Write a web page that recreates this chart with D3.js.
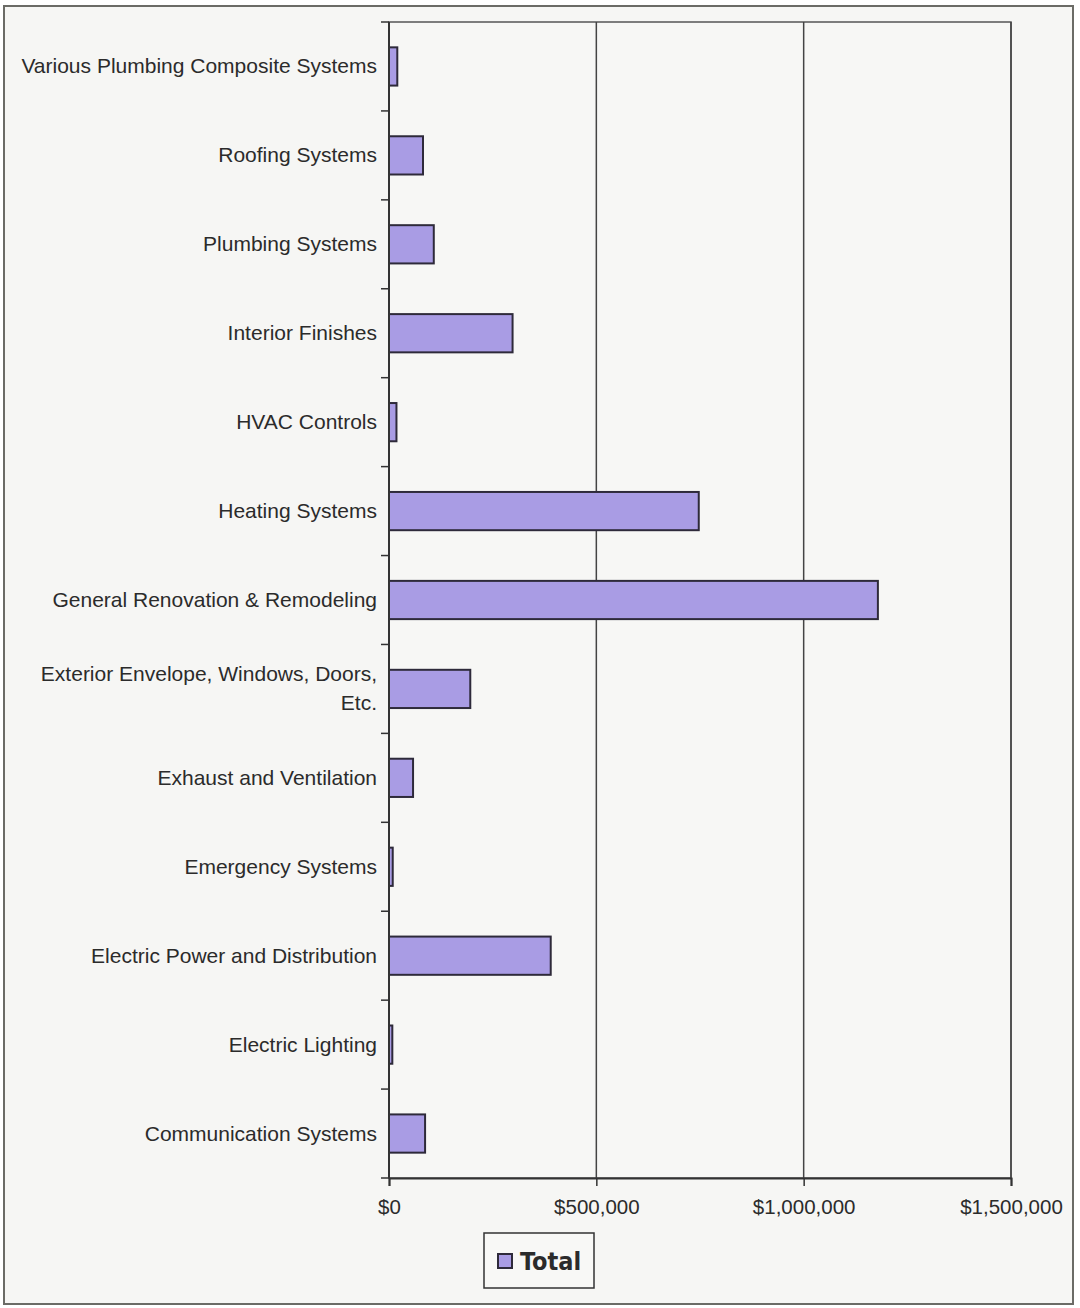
<!doctype html>
<html lang="en">
<head>
<meta charset="utf-8">
<title>Total by system category</title>
<script src="https://cdn.jsdelivr.net/npm/d3@7"></script>
<style>
  body { margin: 0; background: #ffffff; }
  svg text { font-family: "Liberation Sans", Arial, sans-serif; fill: #2b2b2b; }
</style>
</head>
<body>
<svg id="chart" width="1080" height="1308"></svg>
<script>
// categories top to bottom, as shown
var categories = [
  "Various Plumbing Composite Systems",
  "Roofing Systems",
  "Plumbing Systems",
  "Interior Finishes",
  "HVAC Controls",
  "Heating Systems",
  "General Renovation & Remodeling",
  "Exterior Envelope, Windows, Doors, Etc.",
  "Exhaust and Ventilation",
  "Emergency Systems",
  "Electric Power and Distribution",
  "Electric Lighting",
  "Communication Systems"
];
var totals = [20000, 82000, 108000, 298000, 18000, 747000, 1179000, 196000, 58000, 9000, 390000, 8000, 87000];
var xTicks = [0, 500000, 1000000, 1500000];
var seriesName = "Total";

var svg = d3.select("#chart");
var plot = { left: 389, right: 1011, top: 22, bottom: 1178 };

// outer chart frame
svg.append("rect").attr("x", 4).attr("y", 6).attr("width", 1069).attr("height", 1298)
  .attr("fill", "#f6f6f4").attr("stroke", "#6b6b66").attr("stroke-width", 2);

var x = d3.scaleLinear().domain([0, 1500000]).range([plot.left, plot.right]);
var y = d3.scaleBand().domain(categories).range([plot.top, plot.bottom]).paddingInner(0.57).paddingOuter(0.285);
var yOuter = d3.scaleBand().domain(categories).range([plot.top, plot.bottom]);

// plot area
svg.append("rect").attr("x", plot.left).attr("y", plot.top)
  .attr("width", plot.right - plot.left).attr("height", plot.bottom - plot.top)
  .attr("fill", "#f7f7f5").attr("stroke", "#555").attr("stroke-width", 1.5);

// vertical gridlines
svg.append("g").selectAll("line").data(xTicks.slice(1)).enter().append("line")
  .attr("x1", d => x(d)).attr("x2", d => x(d))
  .attr("y1", plot.top).attr("y2", plot.bottom)
  .attr("stroke", "#444").attr("stroke-width", 1.5);

// bars
svg.append("g").selectAll("rect").data(categories).enter().append("rect")
  .attr("x", x(0)).attr("y", d => y(d))
  .attr("width", (d, i) => x(totals[i]) - x(0))
  .attr("height", y.bandwidth())
  .attr("fill", "#a99ce4").attr("stroke", "#2e2a3a").attr("stroke-width", 2);

// x axis
var xAxis = d3.axisBottom(x).tickValues(xTicks).tickSize(8)
  .tickFormat(d => "$" + d3.format(",")(d));
var gx = svg.append("g").attr("transform", "translate(0," + plot.bottom + ")").call(xAxis);
gx.select(".domain").attr("stroke", "#333").attr("stroke-width", 2);
gx.selectAll(".tick line").attr("stroke", "#333").attr("stroke-width", 1.5);
gx.selectAll(".tick text").attr("font-size", 20.5).attr("dy", "1.2em")
  .style("font-family", "Liberation Sans, Arial, sans-serif").attr("fill", "#2b2b2b");

// y axis: ticks at category boundaries
var gy = svg.append("g");
gy.append("line").attr("x1", plot.left).attr("x2", plot.left)
  .attr("y1", plot.top).attr("y2", plot.bottom).attr("stroke", "#333").attr("stroke-width", 2);
gy.selectAll("line.tk").data(categories.concat(["end"])).enter().append("line").attr("class", "tk")
  .attr("x1", plot.left - 8).attr("x2", plot.left)
  .attr("y1", (d, i) => plot.top + i * yOuter.step())
  .attr("y2", (d, i) => plot.top + i * yOuter.step())
  .attr("stroke", "#333").attr("stroke-width", 1.5);

// category labels (wrap the long one)
var labelLines = {
  "Exterior Envelope, Windows, Doors, Etc.": ["Exterior Envelope, Windows, Doors,", "Etc."]
};
categories.forEach(function (c) {
  var lines = labelLines[c] || [c];
  var cy = y(c) + y.bandwidth() / 2;
  var t = svg.append("text").attr("x", plot.left - 12).attr("text-anchor", "end")
    .attr("font-size", 21);
  lines.forEach(function (ln, j) {
    t.append("tspan").attr("x", plot.left - 12)
      .attr("y", cy + (j - (lines.length - 1) / 2) * 29 + 7).text(ln);
  });
});

// legend
var lg = svg.append("g").attr("transform", "translate(484,1233)");
lg.append("rect").attr("width", 110).attr("height", 55)
  .attr("fill", "#f8f8f6").attr("stroke", "#333").attr("stroke-width", 1.5);
lg.append("rect").attr("x", 14).attr("y", 21).attr("width", 14).attr("height", 14)
  .attr("fill", "#a99ce4").attr("stroke", "#2e2a3a").attr("stroke-width", 2);
lg.append("text").attr("x", 36).attr("y", 37).attr("font-size", 25).attr("font-weight", "bold")
  .style("font-family", "DejaVu Sans Condensed, Liberation Sans, sans-serif").text(seriesName);
</script>
</body>
</html>
